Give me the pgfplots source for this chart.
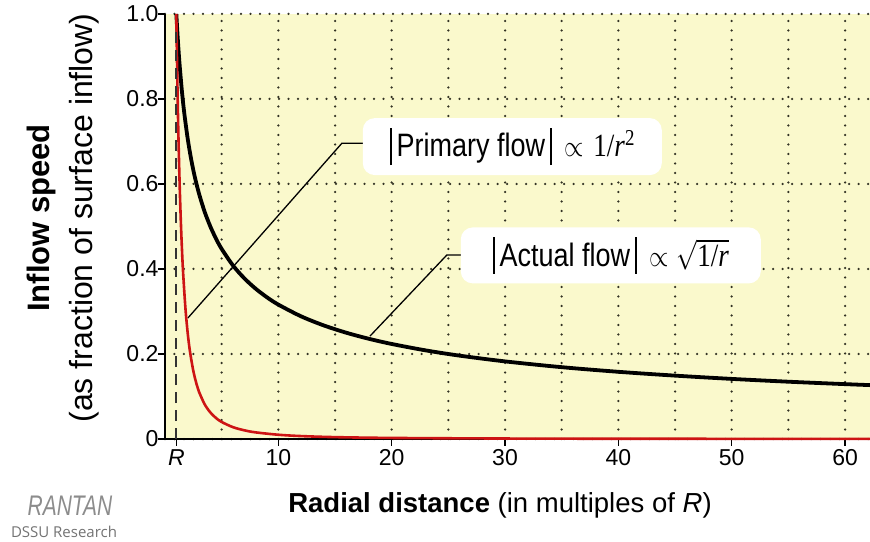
\documentclass[border=0pt]{standalone}
\usepackage{fontspec}
\setmainfont{Liberation Sans}
\newfontfamily\logofont{Open Sans}
\newfontfamily\timesf{Liberation Serif}
\usepackage{graphicx}
\usepackage{pgfplots}
\pgfplotsset{compat=1.18}
\definecolor{bg}{RGB}{250,249,204}
\definecolor{gridc}{RGB}{50,50,35}
\definecolor{redc}{RGB}{205,20,20}
\begin{document}
\begin{tikzpicture}
\begin{axis}[
  scale only axis, width=705pt, height=425pt,
  xmin=0, xmax=62.2, ymin=0, ymax=1,
  axis lines*=left,
  axis line style={line width=2.5pt, black},
  axis background/.style={fill=bg},
  xtick={1,10,20,30,40,50,60},
  xticklabels={\textit{R},10,20,30,40,50,60},
  minor xtick={5,10,15,20,25,30,35,40,45,50,55,60},
  ytick={0,0.2,0.4,0.6,0.8,1.0},
  yticklabels={0,0.2,0.4,0.6,0.8,1.0},
  xmajorgrids=false, xminorgrids=true, ymajorgrids=true,
  major grid style={gridc, line width=2.5pt, line cap=round, dash pattern=on 0pt off 9.5pt},
  minor grid style={gridc, line width=2.5pt, line cap=round, dash pattern=on 0pt off 9.5pt},
  tick align=outside,
  major tick length=7pt, minor tick length=0pt,
  tick style={line width=1.5pt, black},
  tick label style={font=\fontsize{23}{27}\selectfont},
  yticklabel style={xshift=4pt},
  clip=false,
]
\addplot[black, line width=3.8pt, smooth] coordinates {
(1,1) (1.1,0.9535) (1.2,0.9129) (1.3,0.8771) (1.5,0.8165) (1.7,0.7670)
(2,0.7071) (2.3,0.6594) (2.6,0.6202) (3,0.5774) (3.5,0.5345) (4,0.5)
(4.5,0.4714) (5,0.4472) (6,0.4082) (7,0.3780) (8,0.3536) (9,0.3333)
(10,0.3162) (12,0.2887) (14,0.2673) (16,0.25) (18,0.2357) (20,0.2236)
(23,0.2085) (26,0.1961) (30,0.1826) (35,0.1690) (40,0.1581) (45,0.1491)
(50,0.1414) (55,0.1348) (60,0.1291) (62.2,0.1268)};
\addplot[redc, line width=2.6pt, smooth] coordinates {
(1,1) (1.05,0.9070) (1.1,0.8264) (1.15,0.7561) (1.2,0.6944) (1.3,0.5917)
(1.4,0.5102) (1.5,0.4444) (1.6,0.3906) (1.8,0.3086) (2,0.25) (2.2,0.2066)
(2.5,0.16) (2.8,0.1276) (3,0.1111) (3.5,0.0816) (4,0.0625) (4.5,0.0494)
(5,0.04) (6,0.0278) (7,0.0204) (8,0.0156) (10,0.01) (12,0.0069)
(15,0.0044) (20,0.0025) (30,0.0011) (40,0.0006) (62.2,0.0003)};
\addplot[black!80, line width=2pt, dash pattern=on 11pt off 7pt] coordinates {(1,0) (1,0.97)};
\draw[line width=1.3pt] (axis cs:2.03,0.285) -- (axis cs:15.61,0.696) -- (axis cs:17.64,0.696);
\draw[line width=1.3pt] (axis cs:18.08,0.242) -- (axis cs:24.87,0.433) -- (axis cs:26.72,0.433);
\node[fill=white, rounded corners=12pt, minimum width=299pt, minimum height=57pt, inner sep=0pt]
  at (axis cs:30.64,0.688)
  {\fontsize{27}{32}\selectfont\scalebox{1}[1.2]{\rule[-7.5pt]{2pt}{31pt}\hspace{5pt}Primary flow\hspace{5pt}\rule[-7.5pt]{2pt}{31pt}\hspace{12pt}$\propto$\hspace{10pt}{\timesf 1/\textit{r}\textsuperscript{2}}}};
\node[fill=white, rounded corners=12pt, minimum width=300pt, minimum height=56pt, inner sep=0pt]
  at (axis cs:39.33,0.432)
  {\fontsize{27}{32}\selectfont\scalebox{1}[1.2]{\rule[-6pt]{2pt}{31pt}\hspace{5pt}Actual flow\hspace{5pt}\rule[-6pt]{2pt}{31pt}\hspace{12pt}$\propto$\hspace{8pt}$\sqrt{\hbox{\timesf 1/\textit{r}}}$}};
\end{axis}
\node[anchor=base] at (335pt,-73pt) {\fontsize{27.5}{32}\selectfont\textbf{Radial distance} (in multiples of \textit{R})};
\node[rotate=90, anchor=base] at (-115pt,221pt) {\fontsize{31}{36}\selectfont\textbf{Inflow speed}};
\node[rotate=90, anchor=base] at (-72pt,221pt) {\fontsize{32}{36}\selectfont(as fraction of surface inflow)};
\node[anchor=center, text=black!45] at (-95pt,-67pt) {\fontsize{21}{24}\selectfont\scalebox{1}[1.35]{\textit{RANTAN}}};
\node[anchor=base, text=black!55] at (-101pt,-98pt) {\logofont\fontsize{15}{17}\selectfont DSSU Research};
\pgfresetboundingbox
\useasboundingbox (-165pt,-102pt) rectangle (705pt,439pt);
\end{tikzpicture}
\end{document}
